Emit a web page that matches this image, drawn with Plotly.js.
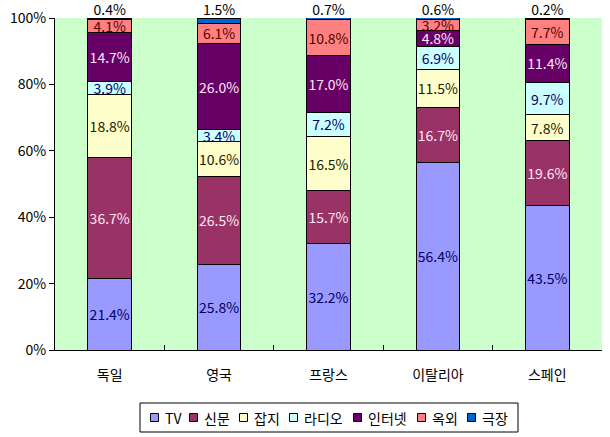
<!DOCTYPE html>
<html>
<head>
<meta charset="utf-8">
<script src="https://cdn.plot.ly/plotly-3.0.1.min.js"></script>
<style>html,body{margin:0;padding:0;background:#fff;}#chart{width:610px;height:437px;}</style>
</head>
<body>
<div id="chart"></div>
<script>
const countries = ['독일', '영국', '프랑스', '이탈리아', '스페인'];
const seriesNames = ['TV', '신문', '잡지', '라디오', '인터넷', '옥외', '극장'];
const tv = [21.4, 25.8, 32.2, 56.4, 43.5];
const newspaper = [36.7, 26.5, 15.7, 16.7, 19.6];
const magazine = [18.8, 10.6, 16.5, 11.5, 7.8];
const radio = [3.9, 3.4, 7.2, 6.9, 9.7];
const internet = [14.7, 26.0, 17.0, 4.8, 11.4];
const outdoor = [4.1, 6.1, 10.8, 3.2, 7.7];
const cinema = [0.4, 1.5, 0.7, 0.6, 0.2];
const yTicks = [0, 20, 40, 60, 80, 100];

const seriesValues = [tv, newspaper, magazine, radio, internet, outdoor, cinema];
const colors = ['#9999FF', '#993366', '#FFFFCC', '#CCFFFF', '#660066', '#FF8080', '#0066CC'];
const textColors = ['#000066', '#FFE6F5', '#222200', '#000066', '#FFE6F5', '#550000', '#000000'];
const FONT = '"Noto Sans CJK KR", "DejaVu Sans", sans-serif';

const W = 610, H = 437;
const M = {l: 55, r: 8, t: 18, b: 87};
const PW = W - M.l - M.r, PH = H - M.t - M.b;
const px2x = px => (px - M.l) / PW;
const py2y = py => (M.t + PH - py) / PH;

const traces = seriesValues.map((vals, i) => ({
  type: 'bar',
  name: seriesNames[i],
  x: countries,
  y: vals,
  text: i === 6 ? undefined : vals.map(v => v.toFixed(1) + '%'),
  textposition: i === 6 ? 'none' : 'inside',
  insidetextanchor: 'middle',
  textangle: 0,
  constraintext: 'none',
  textfont: {family: FONT, size: 14, color: textColors[i]},
  marker: {color: colors[i], line: {color: '#000000', width: 1}},
  hoverinfo: 'skip',
  showlegend: false
}));

// labels of the thin top segment (극장), above each stack (capped at the axis top)
const totals = countries.map((_, j) => seriesValues.reduce((s, arr) => s + arr[j], 0));
traces.push({
  type: 'scatter',
  mode: 'text',
  x: countries,
  y: totals.map(t => Math.min(t, 100)),
  text: cinema.map(v => v.toFixed(1) + '%'),
  textposition: 'top center',
  textfont: {family: FONT, size: 14, color: '#000000'},
  cliponaxis: false,
  showlegend: false,
  hoverinfo: 'skip'
});

// custom legend (box, swatches, labels)
const shapes = [];
const annotations = [];
const legTop = 403, legBot = 432, legMid = (legTop + legBot) / 2;
const sw = 8, swGap = 4, itemGap = 10;
const textW = name => [...name].reduce((s, ch) => s + (/[\uAC00-\uD7A3]/.test(ch) ? 14 : 8.5), 0);
const totalW = seriesNames.reduce((s, n) => s + sw + swGap + textW(n) + itemGap, 0) - itemGap;
const legLeft = 140, legRight = 518;
let cx = (legLeft + legRight) / 2 - totalW / 2;
shapes.push({type: 'rect', xref: 'paper', yref: 'paper',
  x0: px2x(legLeft), x1: px2x(legRight), y0: py2y(legBot), y1: py2y(legTop),
  line: {color: '#000000', width: 1}, fillcolor: '#FFFFFF', layer: 'above'});
seriesNames.forEach((n, i) => {
  shapes.push({type: 'rect', xref: 'paper', yref: 'paper',
    x0: px2x(cx), x1: px2x(cx + sw), y0: py2y(legMid + sw / 2), y1: py2y(legMid - sw / 2),
    line: {color: '#000000', width: 1}, fillcolor: colors[i], layer: 'above'});
  annotations.push({xref: 'paper', yref: 'paper', x: px2x(cx + sw + swGap), y: py2y(legMid),
    xanchor: 'left', yanchor: 'middle', text: n, showarrow: false,
    font: {family: FONT, size: 14, color: '#000000'}});
  cx += sw + swGap + textW(n) + itemGap;
});

const layout = {
  width: W, height: H,
  margin: M,
  barmode: 'stack',
  bargap: 0.6,
  paper_bgcolor: '#FFFFFF',
  plot_bgcolor: '#CCFFCC',
  font: {family: FONT, size: 14, color: '#000000'},
  showlegend: false,
  shapes: shapes,
  annotations: annotations,
  xaxis: {
    type: 'category',
    showline: true, linecolor: '#000000', linewidth: 1,
    ticks: 'inside', tickson: 'boundaries', ticklen: 5, tickcolor: '#000000',
    showgrid: false, zeroline: false,
    tickfont: {family: FONT, size: 14, color: '#000000'},
    ticklabelstandoff: 12
  },
  yaxis: {
    range: [0, 100],
    tickvals: yTicks,
    ticktext: yTicks.map(v => v + '%'),
    showline: true, linecolor: '#000000', linewidth: 1,
    ticks: 'outside', ticklen: 5, tickcolor: '#000000',
    showgrid: false, zeroline: false,
    tickfont: {family: FONT, size: 14, color: '#000000'}
  }
};

Plotly.newPlot('chart', traces, layout, {displayModeBar: false, staticPlot: true});
</script>
</body>
</html>
